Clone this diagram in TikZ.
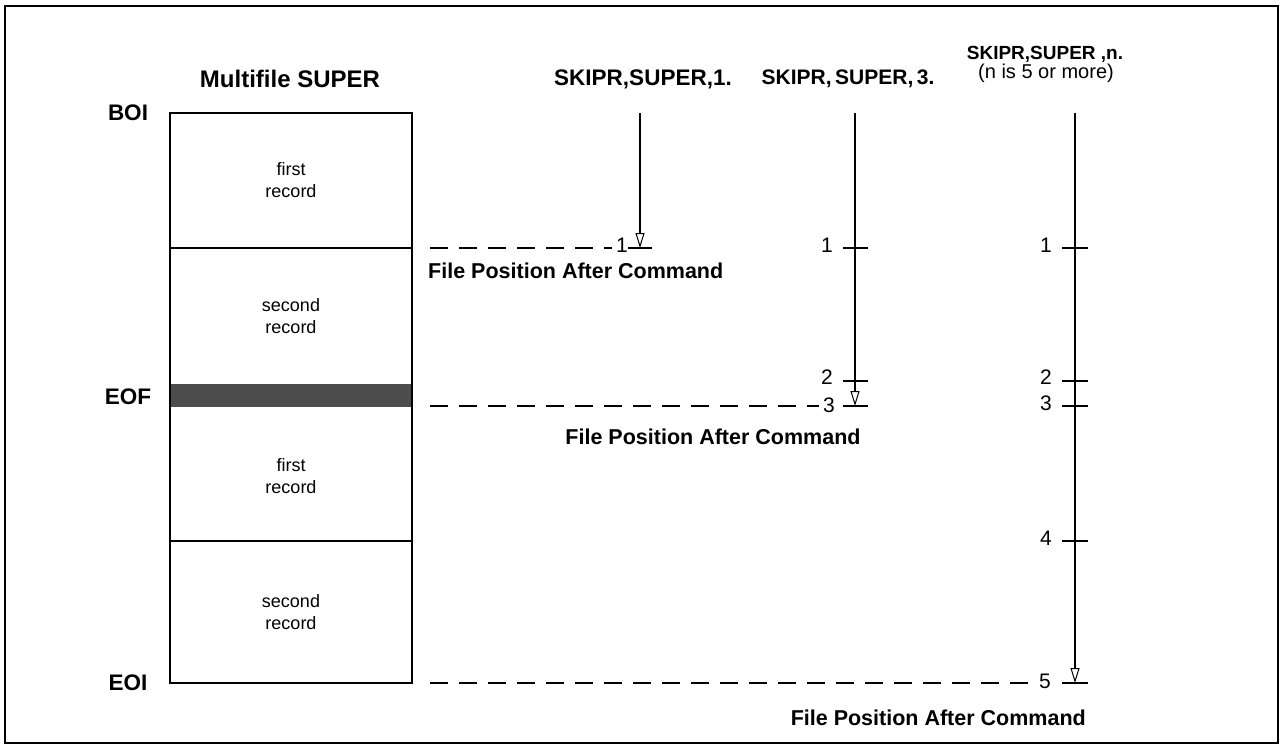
\documentclass[tikz,border=0pt]{standalone}
\usepackage{fontspec}
\setmainfont{Liberation Sans}
\usetikzlibrary{arrows.meta}
\begin{document}
\begin{tikzpicture}[x=1pt,y=-1pt,
  hdr/.style={font=\bfseries\fontsize{22.5}{26}\selectfont, inner sep=0pt},
  hdrs/.style={font=\bfseries\fontsize{19}{22}\selectfont, inner sep=0pt},
  sub/.style={font=\fontsize{20}{23}\selectfont, inner sep=0pt},
  rec/.style={font=\fontsize{18}{22}\selectfont, align=center, inner sep=0pt},
  num/.style={font=\fontsize{21}{24}\selectfont, inner sep=0pt},
  fpac/.style={font=\bfseries\fontsize{21.5}{25}\selectfont, inner sep=0pt},
  boxline/.style={line width=1.8pt},
  dashline/.style={line width=1.4pt, dash pattern=on 18pt off 11pt},
  arr/.style={line width=2.2pt, -{Triangle[open,length=15pt,width=9pt,line width=1pt]}},
  tick/.style={line width=1.6pt}]
\useasboundingbox (0,0) rectangle (1281,752);
% frame
\draw[line width=1.3pt] (5,6) rectangle (1278,743);
% record box
\fill[black!70] (170,384) rectangle (412,407);
\draw[boxline] (170,113) rectangle (412,683);
\draw[line width=1.4pt] (170,248) -- (412,248);
\draw[line width=1.4pt] (170,541) -- (412,541);
% box labels
\node[hdr, font=\bfseries\fontsize{24}{27}\selectfont] (title) at (290,79) {Multifile SUPER};
\node[hdr] (boi) at (128,113) {BOI};
\node[hdr] (eof) at (128,397) {EOF};
\node[hdr] (eoi) at (128,683) {EOI};
\node[rec] (r1) at (291,180) {first\\record};
\node[rec] (r2) at (291,316) {second\\record};
\node[rec] (r3) at (291,476) {first\\record};
\node[rec] (r4) at (291,612) {second\\record};
% headers
\node[hdr] (h1) at (643,79) {SKIPR,SUPER,1.};
\node[hdr, font=\bfseries\fontsize{21}{24}\selectfont] (h2) at (848,79) {SKIPR,\,SUPER,\,3.};
\node[hdrs] (h3) at (1045,54) {SKIPR,SUPER ,n.};
\node[sub] (h3b) at (1046,73) {(n is 5 or more)};
% column 1
\coordinate (c1top) at (640,113);
\coordinate (c1end) at (640,248);
\node[num] (n11) at (622,245) {1};
\draw[arr] (c1top) -- (c1end);
\draw[tick] (628,248) -- (652,248);
\coordinate (d1) at (430,248);
\draw[dashline] (d1) -- ([xshift=-4pt]n11.west |- d1);
\node[fpac, anchor=west] (f1) at (428,271) {File Position After Command};
% column 2
\coordinate (c2top) at (855,113);
\coordinate (c2end) at (855,406);
\draw[arr] (c2top) -- (c2end);
\node[num] (n21) at (827,245) {1};
\node[num] (n22) at (827,377) {2};
\node[num] (n23) at (829,405) {3};
\draw[tick] (843,248) -- (868,248);
\draw[tick] (843,381) -- (868,381);
\draw[tick] (843,406) -- (868,406);
\coordinate (d2) at (430,406);
\draw[dashline] (d2) -- ([xshift=-4pt]n23.west |- d2);
\node[fpac] (f2) at (713,437) {File Position After Command};
% column 3
\coordinate (c3top) at (1075,113);
\coordinate (c3end) at (1075,683);
\draw[arr] (c3top) -- (c3end);
\node[num] (n31) at (1046,245) {1};
\node[num] (n32) at (1046,377) {2};
\node[num] (n33) at (1046,403) {3};
\node[num] (n34) at (1046,538) {4};
\node[num] (n35) at (1045,681) {5};
\foreach \yy in {248,381,406,541,683}
  \draw[tick] (1062,\yy) -- (1088,\yy);
\coordinate (d3) at (430,683);
\draw[dashline] (d3) -- ([xshift=-4pt]n35.west |- d3);
\node[fpac, anchor=east] (f3) at (1086,718) {File Position After Command};
\end{tikzpicture}
\end{document}
